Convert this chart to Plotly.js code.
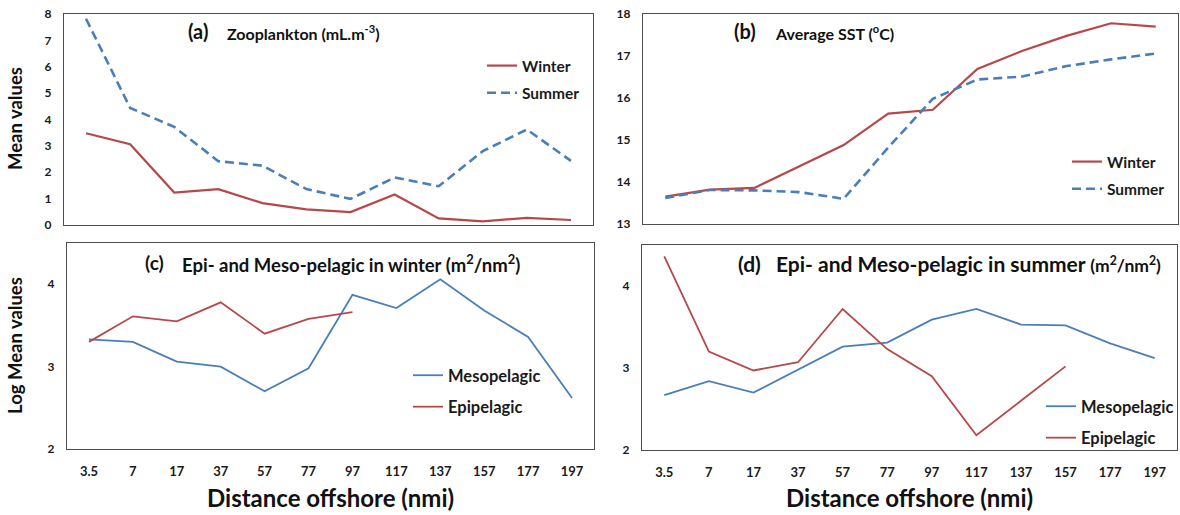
<!DOCTYPE html>
<html>
<head>
<meta charset="utf-8">
<script src="https://cdn.plot.ly/plotly-3.0.1.min.js"></script>
<style>
  html, body { margin: 0; padding: 0; background: #fff; }
  #chart { width: 1180px; height: 515px; }
</style>
</head>
<body>
<div id="chart"></div>
<script>
// Distance offshore stations (nmi)
const distances = ['3.5', '7', '17', '37', '57', '77', '97', '117', '137', '157', '177', '197'];

// (a) Zooplankton mean biovolume (mL.m-3)
const zooWinter = [3.48, 3.06, 1.23, 1.36, 0.83, 0.59, 0.49, 1.16, 0.25, 0.14, 0.27, 0.19];
const zooSummer = [7.82, 4.44, 3.72, 2.42, 2.25, 1.36, 0.99, 1.80, 1.47, 2.80, 3.62, 2.43];

// (b) Average sea surface temperature (°C)
const sstWinter = [13.65, 13.82, 13.86, 14.37, 14.88, 15.63, 15.72, 16.69, 17.12, 17.48, 17.78, 17.70];
const sstSummer = [13.62, 13.81, 13.80, 13.76, 13.60, 14.82, 15.98, 16.44, 16.51, 16.76, 16.92, 17.06];

// (c) Log mean backscatter in winter (m2/nm2)
const winterMeso = [3.33, 3.30, 3.06, 3.00, 2.70, 2.98, 3.87, 3.71, 4.06, 3.68, 3.36, 2.62];
const winterEpi = [3.30, 3.61, 3.55, 3.78, 3.40, 3.58, 3.66];

// (d) Log mean backscatter in summer (m2/nm2)
const summerMeso = [2.67, 2.84, 2.70, 2.98, 3.26, 3.31, 3.59, 3.72, 3.53, 3.52, 3.30, 3.12];
const summerEpi = [4.36, 3.20, 2.97, 3.07, 3.72, 3.23, 2.90, 2.18, 2.60, 3.02];

const RED = '#B8474A';
const BLUE = '#4A7EBB';
const FONT = 'Lato, "Open Sans", sans-serif';

function line(x, y, name, color, dash, xa, ya, legend, group, width) {
  return {
    type: 'scatter', mode: 'lines', x: x, y: y, name: name,
    xaxis: xa, yaxis: ya, legend: legend, legendgroup: group,
    line: { color: color, width: width, dash: dash },
    hoverinfo: 'x+y+name'
  };
}

const traces = [
  line(distances, zooWinter, 'Winter', RED, 'solid', 'x', 'y', 'legend', 'a1', 2.2),
  line(distances, zooSummer, 'Summer', BLUE, '9px,5px', 'x', 'y', 'legend', 'a2', 2.6),
  line(distances, sstWinter, 'Winter', RED, 'solid', 'x2', 'y2', 'legend2', 'b1', 2.2),
  line(distances, sstSummer, 'Summer', BLUE, '9px,5px', 'x2', 'y2', 'legend2', 'b2', 2.6),
  line(distances, winterMeso, 'Mesopelagic', BLUE, 'solid', 'x3', 'y3', 'legend3', 'c1', 1.8),
  line(distances.slice(0, winterEpi.length), winterEpi, 'Epipelagic', RED, 'solid', 'x3', 'y3', 'legend3', 'c2', 1.8),
  line(distances, summerMeso, 'Mesopelagic', BLUE, 'solid', 'x4', 'y4', 'legend4', 'd1', 1.8),
  line(distances.slice(0, summerEpi.length), summerEpi, 'Epipelagic', RED, 'solid', 'x4', 'y4', 'legend4', 'd2', 1.8)
];

const W = 1180, H = 515;
const px = v => v / W;
const py = v => 1 - v / H;

function xAxis(x0, x1, showLabels, anchor) {
  return {
    domain: [px(x0), px(x1)], anchor: anchor, type: 'category', range: [-0.5, 11.5],
    showgrid: false, zeroline: false, showline: true, mirror: true,
    linecolor: '#4d4d4d', linewidth: 1.3, ticks: '',
    showticklabels: showLabels, ticklabelstandoff: 10,
    tickfont: { family: FONT, size: 13, color: '#1a1a1a', weight: 'bold' },
    fixedrange: true
  };
}
function yAxis(y0, y1, range, anchor) {
  return {
    domain: [py(y1), py(y0)], anchor: anchor, range: range, dtick: 1,
    showgrid: false, zeroline: false, showline: true, mirror: true,
    linecolor: '#4d4d4d', linewidth: 1.3, ticks: '', ticklabelstandoff: 9,
    tickfont: { family: FONT, size: 12, color: '#1a1a1a', weight: 'bold' },
    fixedrange: true
  };
}
function legendAt(x, y, size, gap) {
  return {
    x: px(x), y: py(y), xanchor: 'left', yanchor: 'top',
    bgcolor: 'rgba(0,0,0,0)', borderwidth: 0, tracegroupgap: gap,
    font: { family: FONT, size: size, color: '#1a1a1a', weight: 'bold' },
    itemclick: false, itemdoubleclick: false
  };
}
function note(x, y, text, size, anchor, angle) {
  return {
    xref: 'paper', yref: 'paper', x: px(x), y: py(y), text: text,
    showarrow: false, xanchor: anchor || 'left', yanchor: 'middle',
    textangle: angle || 0,
    font: { family: FONT, size: size, color: '#111', weight: 'bold' }
  };
}

const layout = {
  width: W, height: H,
  margin: { l: 0, r: 0, t: 0, b: 0 },
  paper_bgcolor: '#fff', plot_bgcolor: '#fff',
  font: { family: FONT },
  showlegend: true,
  xaxis: xAxis(64, 593, false, 'y'),
  yaxis: yAxis(14, 225, [0, 8], 'x'),
  xaxis2: xAxis(643, 1178, false, 'y2'),
  yaxis2: yAxis(14, 224, [13, 18], 'x2'),
  xaxis3: xAxis(67, 594, true, 'y3'),
  yaxis3: yAxis(243, 449, [2, 4.5], 'x3'),
  xaxis4: xAxis(642, 1177, true, 'y4'),
  yaxis4: yAxis(245, 450, [2, 4.5], 'x4'),
  legend: legendAt(482, 49, 15.5, 4),
  legend2: legendAt(1067, 145, 15.5, 4),
  legend3: legendAt(408, 358, 16.5, 7),
  legend4: legendAt(1041, 389, 16.5, 7),
  annotations: [
    note(186, 31, '(a)', 20),
    note(225, 32, 'Zooplankton (mL.m<sup>-3</sup>)', 16),
    note(732, 31, '(b)', 20),
    note(773, 32, 'Average SST (<sup>o</sup>C)', 16),
    note(143, 262, '(c)', 19),
    note(180, 263, 'Epi- and Meso-pelagic in winter (m<sup>2</sup>/nm<sup>2</sup>)', 18.5),
    note(736, 263, '(d)', 21),
    note(774, 263, 'Epi- and Meso-pelagic in summer <span style="font-size:17.5px">(m<sup>2</sup>/nm<sup>2</sup>)</span>', 21),
    note(15, 119, 'Mean values', 18.5, 'center', -90),
    note(15, 346, 'Log Mean values', 18.5, 'center', -90),
    note(330, 497, 'Distance offshore (nmi)', 24, 'center'),
    note(909, 497, 'Distance offshore (nmi)', 24, 'center')
  ]
};

Plotly.newPlot('chart', traces, layout, { displayModeBar: false });
</script>
</body>
</html>
